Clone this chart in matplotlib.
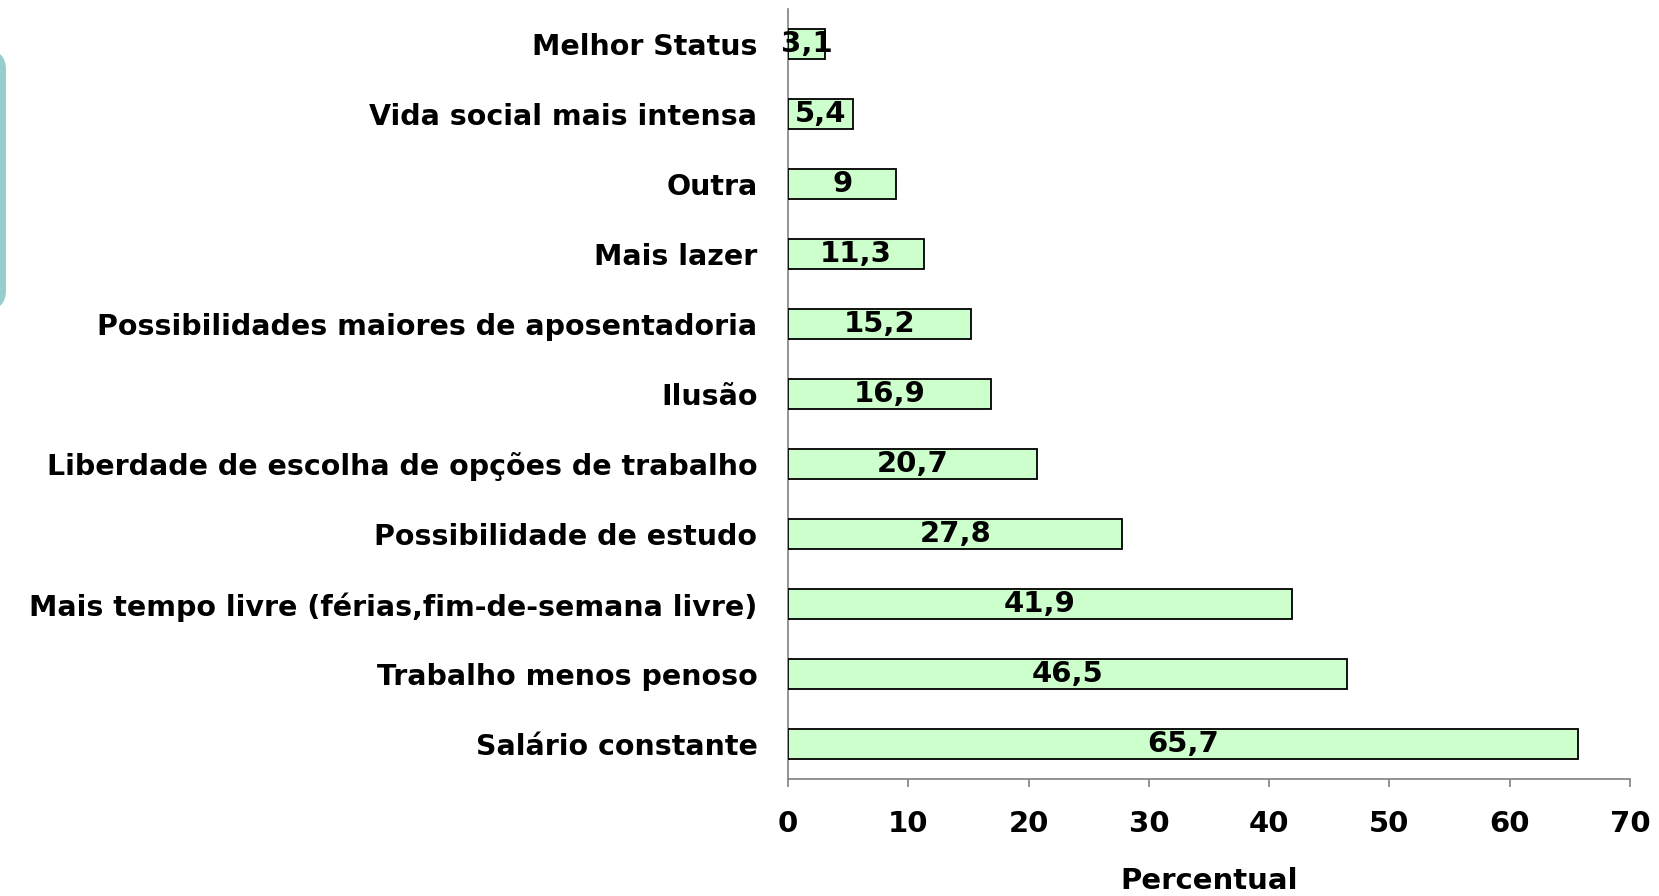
import matplotlib
matplotlib.use("Agg")
import matplotlib.pyplot as plt
from matplotlib.patches import FancyBboxPatch

categories = [
    "Salário constante",
    "Trabalho menos penoso",
    "Mais tempo livre (férias,fim-de-semana livre)",
    "Possibilidade de estudo",
    "Liberdade de escolha de opções de trabalho",
    "Ilusão",
    "Possibilidades maiores de aposentadoria",
    "Mais lazer",
    "Outra",
    "Vida social mais intensa",
    "Melhor Status",
]
values = [65.7, 46.5, 41.9, 27.8, 20.7, 16.9, 15.2, 11.3, 9, 5.4, 3.1]
value_labels = ["65,7", "46,5", "41,9", "27,8", "20,7", "16,9", "15,2", "11,3", "9", "5,4", "3,1"]
xticks = [0, 10, 20, 30, 40, 50, 60, 70]

plt.rcParams['font.family'] = ['DejaVu Sans']
FS = 20.5

fig = plt.figure(figsize=(16.59, 8.96), dpi=100)
ax = fig.add_axes([0.475, 0.1306, 0.9825 - 0.475, 0.99 - 0.1306])

y = list(range(len(categories)))
ax.barh(y, values, height=0.43, color='#CCFFCC', edgecolor='black', linewidth=1.3, zorder=3)
for yi, v, lab in zip(y, values, value_labels):
    ax.text(v / 2, yi, lab, ha='center', va='center', fontsize=21, fontweight='bold', zorder=4)

ax.set_xlim(0, 70)
ax.set_ylim(-0.5, len(categories) - 0.5)
ax.set_yticks(y)
ax.set_yticklabels(categories, fontsize=FS, fontweight='bold')
ax.set_xticks(xticks)
ax.set_xticklabels([str(t) for t in xticks], fontsize=21, fontweight='bold')
ax.tick_params(axis='y', length=0, pad=22)
ax.tick_params(axis='x', length=6, width=1.2, color='#808080', pad=16)
for s in ['top', 'right']:
    ax.spines[s].set_visible(False)
for s in ['left', 'bottom']:
    ax.spines[s].set_color('#808080')
    ax.spines[s].set_linewidth(1.2)
ax.set_xlabel("Percentual", fontsize=21, fontweight='bold', labelpad=21)

# decorative teal rounded shape at the left edge
deco = FancyBboxPatch((-20 / 1659, 1 - 310 / 896), 26 / 1659, 260 / 896,
                      boxstyle="round,pad=0,rounding_size=0.012",
                      transform=fig.transFigure, facecolor='#97CDCD', edgecolor='none',
                      mutation_aspect=1659 / 896)
fig.patches.append(deco)

fig.savefig("out.png", dpi=100)
